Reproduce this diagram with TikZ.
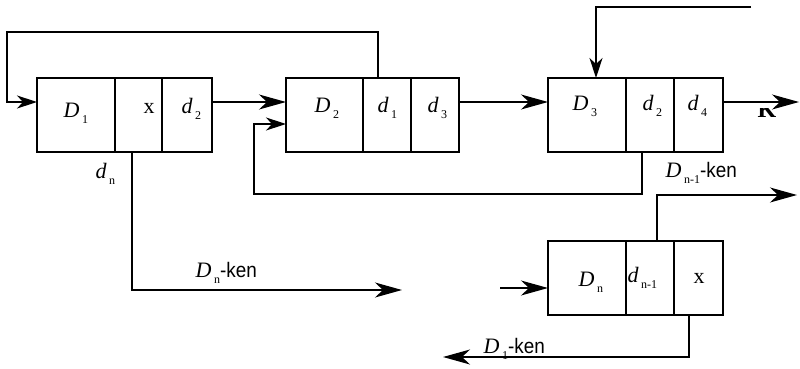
\documentclass[tikz,border=0pt]{standalone}
\usepackage{fontspec}
\setmainfont{Liberation Serif}
\newfontfamily\kenfont[FakeStretch=0.9]{Liberation Sans}
\usetikzlibrary{arrows.meta,positioning}
\newcommand{\lab}[2]{\textit{#1}\hspace{2.5pt}\raisebox{-6pt}{\fontsize{12}{12}\selectfont #2}}
\newcommand{\kenlab}[2]{\lab{#1}{#2}{\kenfont\fontsize{21}{24}\selectfont -ken}}
\tikzset{
	cell/.style={draw, line width=1.3pt, minimum height=74pt, inner sep=0pt, outer sep=0pt, anchor=north west},
	big/.style={-{Stealth[length=27pt,width=15pt,inset=8pt]}},
	small/.style={-{Stealth[length=20pt,width=13pt,inset=6pt]}},
	txt/.style={anchor=base west, inner sep=0pt}
}
\begin{document}
\begin{tikzpicture}[x=1pt, y=1pt, line width=1.3pt, font=\fontsize{22}{26}\selectfont]
	\useasboundingbox (0,0) rectangle (800,368);
	% boxes
	\node[cell, minimum width=78pt] (b1a) at (37,290) {};
	\node[cell, minimum width=47pt] (b1b) at (b1a.north east) {};
	\node[cell, minimum width=50pt] (b1c) at (b1b.north east) {};
	\node[cell, minimum width=77pt] (b2a) at (286,290) {};
	\node[cell, minimum width=48pt] (b2b) at (b2a.north east) {};
	\node[cell, minimum width=48pt] (b2c) at (b2b.north east) {};
	\node[cell, minimum width=78pt] (b3a) at (548,290) {};
	\node[cell, minimum width=48pt] (b3b) at (b3a.north east) {};
	\node[cell, minimum width=49pt] (b3c) at (b3b.north east) {};
	\node[cell, minimum width=78pt] (b4a) at (548,127) {};
	\node[cell, minimum width=48pt] (b4b) at (b4a.north east) {};
	\node[cell, minimum width=49pt] (b4c) at (b4b.north east) {};
	\path
	(7,336) coordinate (topL)
	(254,174) coordinate (lowL)
	(751,361) coordinate (in3)
	(799,266) coordinate (out3)
	(402,78) coordinate (outDn)
	(500,80) coordinate (in4)
	(797,173) coordinate (outDm)
	(443,11) coordinate (outDa)
	;
	% connectors
	\draw[small] ([xshift=15pt]b2b.north west) |- (topL) |- ([yshift=-24pt]b1a.north west);
	\draw[big] ([yshift=-24pt]b1c.north east) -- ([yshift=-24pt]b2a.north west);
	\draw[big] ([yshift=-24pt]b2c.north east) -- ([yshift=-24pt]b3a.north west);
	\draw[big] ([yshift=-24pt]b3c.north east) -- (out3);
	\draw[small] ([xshift=16pt]b3b.south west) |- (lowL) |- ([yshift=-46pt]b2a.north west);
	\draw[small] (in3) -| ([xshift=48pt]b3a.north west);
	\draw[big] ([xshift=17pt]b1b.south west) |- (outDn);
	\draw[big] (in4) -- ([yshift=-47pt]b4a.north west);
	\draw[big] ([xshift=31pt]b4b.north west) |- (outDm);
	\draw[big] ([xshift=15pt]b4c.south west) |- (outDa);
	% labels
	\foreach \p/\t [count=\i] in {
		{(63,251)}/{\lab{D}{1}}, {(143,255)}/{x}, {(181,255)}/{\lab{d}{2}},
		{(314,256)}/{\lab{D}{2}}, {(377,256)}/{\lab{d}{1}}, {(427,256)}/{\lab{d}{3}},
		{(572,258)}/{\lab{D}{3}}, {(642,258)}/{\lab{d}{2}}, {(687,258)}/{\lab{d}{4}},
		{(578,82)}/{\lab{D}{n}}, {(627,86)}/{\lab{d}{n-1}}, {(693,85)}/{x},
		{(95,190)}/{\lab{d}{n}}}
	\node[txt] (t\i) at \p {\t};
	\node[txt] (kDn) at (195,91) {\kenlab{D}{n}};
	\node[txt] (kDm) at (665,191) {\kenlab{D}{n-1}};
	\node[txt] (kDa) at (483,15) {\kenlab{D}{1}};
	\begin{scope}
		\clip (740,230) rectangle (790,260);
		\node[txt] (kK) at (757,251) {\fontsize{24}{26}\selectfont\textbf{K}};
	\end{scope}
\end{tikzpicture}
\end{document}
